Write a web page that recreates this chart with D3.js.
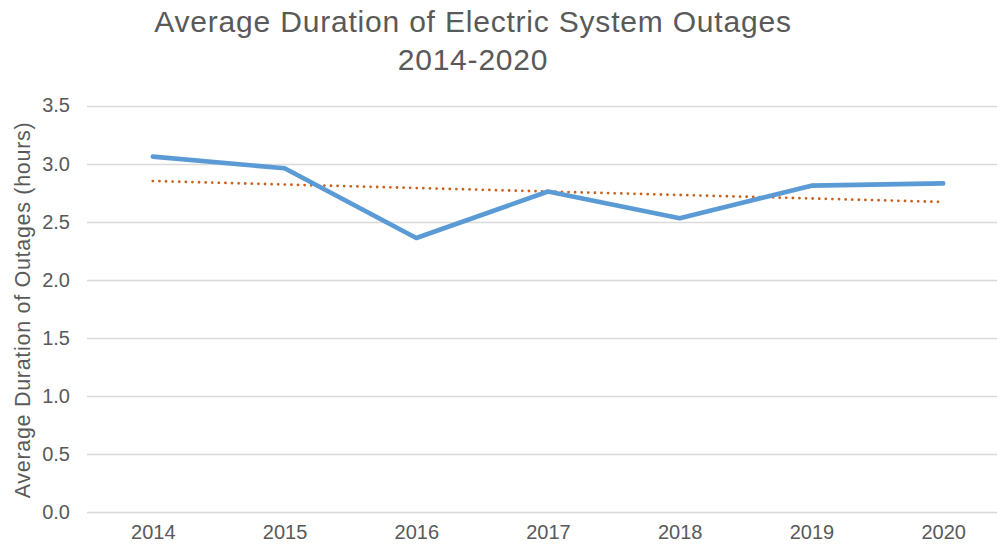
<!DOCTYPE html>
<html>
<head>
<meta charset="utf-8">
<script src="https://cdn.jsdelivr.net/npm/d3@7"></script>
<style>
  body { margin: 0; background: #fff; }
  svg { display: block; font-family: "Liberation Sans", Arial, sans-serif; }
</style>
</head>
<body>
<div id="content"></div>
<script>
var years = ["2014", "2015", "2016", "2017", "2018", "2019", "2020"];
var hours = [3.06, 2.96, 2.36, 2.76, 2.53, 2.81, 2.83];
var trendEnds = [2.85, 2.67];
var yTicks = [0, 0.5, 1.0, 1.5, 2.0, 2.5, 3.0, 3.5];

var width = 997;
var height = 548;

var svg = d3.select("#content").append("svg")
    .attr("width", width)
    .attr("height", height);

var x = d3.scalePoint()
    .domain(years)
    .range([87, 1009])
    .padding(0.5);

var y = d3.scaleLinear()
    .domain([0, 3.5])
    .range([512.3, 105.5]);

// gridlines
svg.append("g")
    .selectAll("line")
    .data(yTicks)
    .enter()
    .append("line")
    .attr("x1", 87)
    .attr("x2", 1009)
    .attr("y1", d => Math.round(y(d)) + 0.5)
    .attr("y2", d => Math.round(y(d)) + 0.5)
    .attr("stroke", "#d9d9d9")
    .attr("stroke-width", 1.5);

var yAxis = svg.append("g")
    .attr("transform", "translate(87,0)")
    .call(d3.axisLeft(y).tickValues(yTicks).tickSize(0).tickPadding(17).tickFormat(d3.format(".1f")));
yAxis.select(".domain").remove();
yAxis.selectAll("text")
    .attr("fill", "#595959")
    .style("font-size", "20px")
    .style("font-family", "Liberation Sans, Arial, sans-serif");

var xAxis = svg.append("g")
    .attr("transform", "translate(0,512)")
    .call(d3.axisBottom(x).tickSize(0).tickPadding(13));
xAxis.select(".domain").remove();
xAxis.selectAll("text")
    .attr("fill", "#595959")
    .style("font-size", "20px")
    .style("font-family", "Liberation Sans, Arial, sans-serif");

// trend line
var trendData = [
    { year: years[0], v: trendEnds[0] },
    { year: years[years.length - 1], v: trendEnds[1] }
];
svg.append("path")
    .datum(trendData)
    .attr("fill", "none")
    .attr("stroke", "#c9611c")
    .attr("stroke-width", 2.8)
    .attr("stroke-linecap", "round")
    .attr("stroke-dasharray", "0 6.6")
    .attr("d", d3.line().x(d => x(d.year)).y(d => y(d.v)));

// data line
svg.append("path")
    .datum(hours)
    .attr("fill", "none")
    .attr("stroke", "#5b9bd5")
    .attr("stroke-width", 4.7)
    .attr("stroke-linecap", "round")
    .attr("stroke-linejoin", "round")
    .attr("d", d3.line().x((d, i) => x(years[i])).y(d => y(d)));

// title
var title = svg.append("text")
    .attr("text-anchor", "middle")
    .attr("fill", "#595959")
    .style("font-size", "30px")
    .style("letter-spacing", "0.8px");
title.append("tspan").attr("x", 473).attr("y", 32).text("Average Duration of Electric System Outages");
title.append("tspan").attr("x", 473).attr("y", 70).text("2014-2020");

// y axis label
svg.append("text")
    .attr("transform", "translate(30,310) rotate(-90)")
    .attr("text-anchor", "middle")
    .attr("fill", "#595959")
    .style("font-size", "21.5px")
    .style("letter-spacing", "0.7px")
    .text("Average Duration of Outages (hours)");
</script>
</body>
</html>
